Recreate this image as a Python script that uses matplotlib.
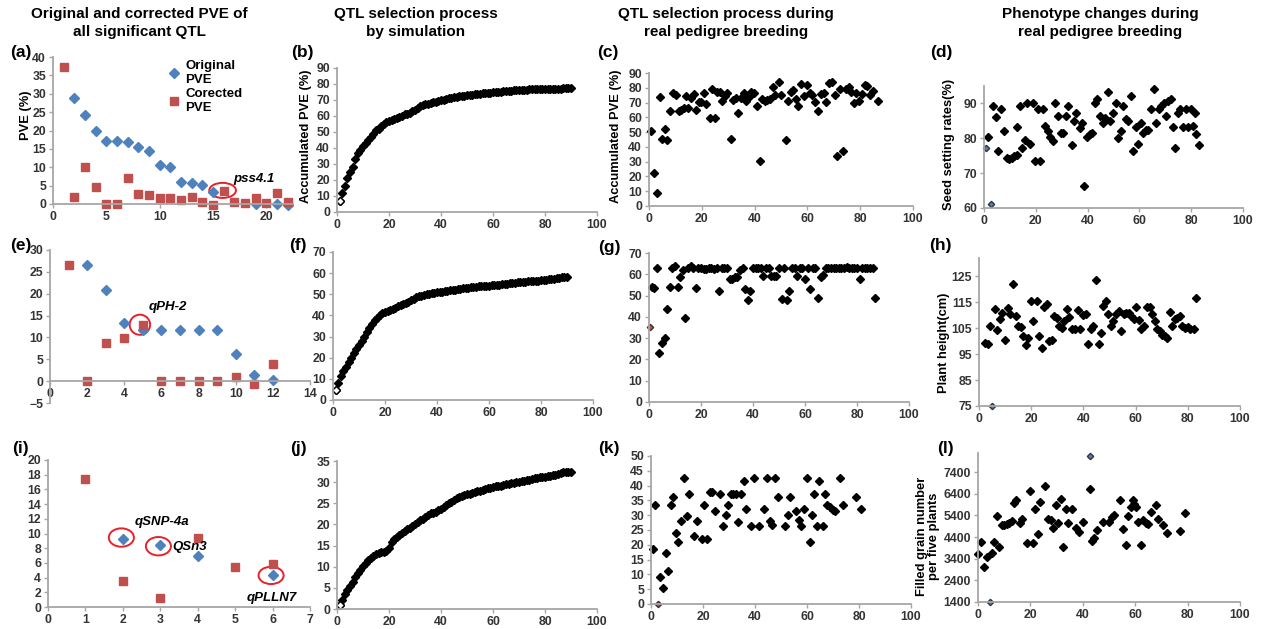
import matplotlib
matplotlib.use('Agg')
import matplotlib.pyplot as plt
from matplotlib.patches import Ellipse

plt.rcParams['font.family'] = ['Liberation Sans', 'DejaVu Sans']
plt.rcParams['font.weight'] = 'bold'

# ---- data ----
# (a) original vs corrected PVE
a_orig_x = [2, 3, 4, 5, 6, 7, 8, 9, 10, 11, 12, 13, 14, 15, 19, 21, 22]
a_orig = [28.8, 24.3, 20.0, 17.2, 17.2, 16.9, 15.5, 14.5, 10.7, 10.2, 6.0, 5.7, 5.3, 3.3, 0.0, 0.0, -0.3]
a_corr_x = list(range(1, 23))
a_corr = [37.4, 1.9, 10.1, 4.5, 0.0, 0.0, 7.2, 2.7, 2.4, 1.5, 1.6, 1.0, 2.0, 0.5, -0.4,
          3.6, 0.6, 0.2, 1.5, 0.3, 3.0, 0.5]

# (e)
e_orig_x = [2, 3, 4, 5, 6, 7, 8, 9, 10, 11, 12]
e_orig = [26.5, 20.8, 13.2, 11.8, 11.8, 11.8, 11.8, 11.8, 6.1, 1.3, 0.2]
e_corr_x = list(range(1, 13))
e_corr = [26.5, 0.0, 8.8, 9.9, 12.9, 0.0, 0.0, 0.0, 0.0, 0.9, -0.6, 4.0]

# (i)
i_orig_x = [2, 3, 4, 6]
i_orig = [9.3, 8.4, 7.0, 4.4]
i_corr_x = [1, 2, 3, 4, 5, 6]
i_corr = [17.4, 3.5, 1.2, 9.4, 5.5, 5.8]

# (b) (f) (j) simulated accumulated PVE, steps 1..90
sim_x = list(range(1, 91))
b_y = [7, 12, 16, 21, 25, 28, 33, 37, 39, 41, 43, 45, 47, 49, 51, 52, 53.5, 55, 56, 57,
       57.5, 58, 59, 59.5, 60, 61, 61.5, 62, 63, 64, 65, 66.5, 67, 67.3, 67.5, 68, 68.5, 69, 69.5, 70,
       70.3, 70.7, 71, 71.3, 71.7, 72, 72.3, 72.5, 72.8, 73, 73.2, 73.4, 73.6, 73.8, 74, 74.2, 74.3, 74.5, 74.6, 74.8,
       74.9, 75.1, 75.3, 75.4, 75.6, 75.7, 75.8, 76, 76.1, 76.2, 76.3, 76.4, 76.5, 76.6, 76.6, 76.7, 76.7, 76.8, 76.8, 76.9,
       76.9, 77, 77, 77, 77.1, 77.1, 77.2, 77.2, 77.2, 77.3]
f_y = [4.5, 8, 11.5, 13.5, 15.5, 18, 20, 22, 24, 26, 28, 30, 32, 34, 36, 38, 39, 40, 41, 41.5,
       42, 42.5, 43, 43.5, 44.5, 45, 45.5, 46, 46.5, 47.5, 48, 48.5, 49, 49.3, 49.6, 50, 50.3, 50.6, 50.8, 51,
       51.1, 51.2, 51.4, 51.6, 51.8, 52, 52.2, 52.4, 52.6, 52.8, 53, 53.2, 53.4, 53.5, 53.6, 53.7, 53.8, 53.9, 54, 54.1,
       54.2, 54.3, 54.4, 54.6, 54.8, 55, 55.1, 55.2, 55.3, 55.4, 55.6, 55.8, 55.9, 56, 56.1, 56.2, 56.3, 56.4, 56.5, 56.6,
       56.7, 56.8, 57, 57.2, 57.4, 57.6, 57.8, 58, 58, 58]
j_y = [0.9, 2.1, 3.5, 4.5, 5.5, 6.5, 7.6, 8.5, 9.3, 10.2, 10.9, 11.6, 12.1, 12.6, 13.0, 13.2, 13.4, 13.5, 13.8, 14.5,
       15.8, 16.5, 17.0, 17.5, 18.0, 18.5, 18.9, 19.2, 19.7, 20.2, 20.6, 21.0, 21.4, 21.8, 22.2, 22.6, 22.8, 23.0, 23.3, 23.7,
       24.2, 24.7, 25.1, 25.4, 25.8, 26.2, 26.5, 26.8, 27.0, 27.2, 27.3, 27.5, 27.6, 27.8, 28.0, 28.2, 28.4, 28.5, 28.7, 28.8,
       29.0, 29.1, 29.2, 29.4, 29.5, 29.6, 29.7, 29.9, 30.0, 30.1, 30.2, 30.3, 30.5, 30.6, 30.7, 30.9, 31.0, 31.1, 31.2, 31.3,
       31.4, 31.5, 31.6, 31.8, 32.0, 32.2, 32.4, 32.5, 32.5, 32.4]

# (c) accumulated PVE in real breeding (seed setting)
c_x = [0.9, 1.9, 3.0, 4.0, 4.9, 5.9, 6.9, 7.8, 9.1, 10.1, 11.2, 12.2, 13.1, 14.1, 14.8, 16.0, 17.0, 17.9, 18.9, 19.8,
       20.8, 21.7, 23.0, 23.9, 24.9, 25.8, 26.8, 27.8, 28.7, 29.7, 30.9, 31.8, 32.8, 33.7, 35.0, 35.9, 36.9, 37.9, 38.8, 39.6,
       40.9, 41.9, 42.8, 43.8, 44.8, 46.0, 46.9, 47.9, 49.3, 49.9, 51.8, 52.7, 53.7, 54.5, 55.6, 56.4, 57.7, 58.7, 59.8, 60.9,
       61.9, 62.8, 64.0, 65.0, 66.2, 67.2, 68.2, 69.3, 70.3, 71.3, 72.5, 73.5, 74.7, 75.8, 76.6, 77.7, 78.5, 79.5, 80.7, 81.7,
       82.7, 83.6, 84.8, 86.7]
c_y = [50.5, 22.2, 8.6, 73.5, 45.2, 52.0, 44.8, 64.5, 76.5, 75.3, 64.0, 64.7, 66.3, 74.7, 66.3, 73.0, 76.0, 65.2, 70.1, 70.1,
       76.5, 69.0, 59.5, 79.2, 59.5, 77.0, 77.0, 71.3, 74.7, 76.5, 45.2, 72.0, 73.1, 62.9, 73.1, 76.5, 71.3, 73.5, 77.0, 76.5,
       67.9, 30.5, 72.4, 70.8, 71.5, 72.4, 80.5, 75.3, 83.7, 75.3, 44.8, 71.3, 77.0, 78.7, 72.4, 67.4, 82.6, 74.2, 82.1, 76.5,
       75.3, 70.1, 64.0, 75.8, 76.5, 70.1, 83.3, 83.7, 75.3, 34.0, 79.2, 37.3, 79.2, 80.5, 77.0, 69.6, 76.5, 70.8, 75.8, 82.1,
       81.0, 75.3, 77.6, 70.8]

# (d) seed setting rates
d_x = [1.7, 3.6, 4.6, 5.5, 6.6, 7.7, 8.7, 9.6, 10.7, 11.7, 12.6, 12.9, 13.9, 14.8, 15.8, 16.7, 17.7, 18.8, 19.7, 20.7,
       21.6, 22.6, 23.5, 24.6, 25.4, 26.5, 27.6, 28.7, 29.6, 30.6, 31.6, 32.5, 33.8, 34.8, 35.7, 37.0, 38.0, 38.7, 39.6, 40.9,
       41.8, 42.8, 43.8, 44.7, 45.8, 46.7, 48.0, 48.6, 49.9, 50.8, 51.8, 52.8, 53.7, 54.8, 55.7, 56.7, 57.6, 58.6, 59.5, 60.5,
       61.4, 62.5, 63.4, 64.4, 65.7, 66.6, 67.6, 68.5, 69.5, 70.2, 71.1, 72.1, 73.0, 73.9, 74.9, 75.8, 76.9, 77.9, 78.8, 79.8,
       80.7, 81.4, 82.0, 83.0]
d_y = [80.3, 89.4, 86.1, 76.3, 88.3, 82.2, 74.4, 74.1, 74.4, 74.9, 75.3, 83.3, 89.2, 77.3, 79.5, 90.2, 78.4, 90.2, 73.4, 88.3,
       73.4, 88.3, 83.5, 82.1, 80.4, 79.2, 90.2, 86.4, 81.6, 81.6, 86.4, 89.2, 78.2, 85.1, 87.3, 83.0, 84.4, 66.2, 80.4, 81.3,
       81.6, 90.2, 91.2, 86.4, 84.3, 85.9, 93.3, 85.1, 87.3, 90.2, 80.1, 82.2, 89.2, 85.4, 85.1, 92.1, 76.3, 83.2, 78.4, 84.4,
       81.6, 82.3, 82.5, 88.3, 94.2, 84.3, 88.5, 89.4, 90.2, 86.4, 90.7, 91.4, 83.3, 77.3, 87.3, 88.3, 83.3, 88.3, 83.3, 88.3,
       83.5, 87.3, 81.3, 78.2]
d_par_x = [0.8, 2.7]
d_par_y = [77.3, 61.2]

# (g) accumulated PVE in real breeding (plant height)
g_x = list(range(1, 88))
g_y = [54, 53.5, 62.9, 22.8, 27.8, 30.3, 43.6, 53.9, 62.9, 63.7, 54.2, 58.6, 62.1, 39.3, 62.9, 63.7, 63, 53.5, 63, 63,
       62.5, 62.5, 63, 63, 62.5, 63, 52, 63, 63, 63, 58, 58, 58.5, 58.5, 62, 63, 53, 48, 52, 63,
       63, 63, 63, 59, 63, 63, 59, 59, 59, 63, 48.5, 63, 48, 52, 63, 63, 59, 63, 63, 58,
       63, 53, 63, 63, 49, 58.5, 59.5, 63, 63, 63, 63, 63, 63, 63, 63, 63.5, 63, 63, 63, 63,
       58, 63, 63, 63, 63, 63, 49]
g_par_x = [0.5]
g_par_y = [35.4]

# (h) plant height
h_x = [2.2, 3.5, 4.1, 6.0, 6.9, 7.9, 9.0, 10.1, 11.2, 12.0, 13.1, 14.1, 15.0, 16.0, 16.9, 17.9, 18.8, 19.9, 20.8, 22.1,
       23.1, 24.0, 25.0, 25.9, 26.9, 27.8, 28.8, 29.7, 30.8, 31.7, 32.7, 33.6, 34.6, 35.8, 36.8, 37.8, 38.7, 39.7, 40.9, 41.9,
       42.8, 43.8, 44.7, 45.8, 46.8, 47.7, 48.7, 49.6, 50.6, 51.5, 52.6, 53.5, 54.5, 55.4, 56.4, 57.3, 58.3, 59.2, 60.3, 61.2,
       62.2, 63.1, 64.4, 65.4, 66.3, 67.3, 68.2, 69.2, 70.1, 71.2, 72.1, 73.1, 74.0, 75.0, 75.9, 76.9, 77.8, 79.1, 80.0, 81.0,
       82.3, 83.3]
h_y = [99.3, 98.9, 106.0, 112.5, 104.2, 108.6, 111.0, 100.6, 112.9, 110.3, 122.0, 109.7, 106.0, 105.5, 102.1, 98.6, 101.2,
       115.5, 107.7, 115.5, 101.9, 97.3, 113.3, 114.2, 99.9, 100.3, 109.7, 109.0, 106.0, 105.1, 107.7, 112.2, 109.3, 104.5,
       104.5, 112.0, 104.5, 109.9, 110.3, 99.0, 104.5, 106.0, 123.6, 99.0, 103.2, 113.6, 115.5, 110.5, 105.8, 107.7, 110.3,
       111.6, 103.8, 110.3, 110.7, 110.7, 109.7, 108.4, 113.3, 108.1, 104.5, 106.0, 113.3, 113.3, 110.3, 107.7, 104.5, 103.8,
       102.5, 101.9, 101.2, 111.2, 106.0, 108.4, 109.0, 109.7, 105.8, 105.1, 105.5, 104.7, 104.7, 116.6]
h_par_x = [5]
h_par_y = [75]

# (k) accumulated PVE in real breeding (filled grain number)
k_x = [0.6, 1.5, 3.5, 4.7, 5.6, 6.7, 7.7, 8.6, 9.6, 10.5, 11.6, 12.7, 13.7, 14.8, 16.7, 17.8, 19.5, 20.5, 21.7, 22.7,
       23.6, 24.6, 26.6, 27.6, 28.8, 29.8, 30.7, 31.7, 32.7, 33.6, 34.7, 35.8, 36.6, 38.5, 39.7, 41.7, 43.6, 44.5, 45.6, 46.5,
       47.8, 48.8, 51.6, 52.6, 53.5, 55.8, 57.0, 57.8, 58.9, 59.9, 61.2, 61.9, 62.8, 63.8, 64.7, 66.0, 66.8, 67.7, 68.9, 69.9,
       70.9, 72.8, 73.8, 78.8, 80.9]
k_y = [18.5, 33.6, 9.2, 5.5, 17.3, 11.1, 33.6, 36.0, 24.0, 20.8, 28.0, 42.7, 29.7, 37.3, 22.9, 28.0, 22.1, 33.6, 22.1, 37.9,
       37.9, 31.5, 37.3, 26.3, 30.0, 33.4, 37.3, 37.3, 37.3, 27.8, 37.3, 41.5, 32.2, 26.3, 42.7, 26.3, 32.0, 42.7, 28.0, 26.6,
       42.7, 36.0, 26.3, 30.0, 36.0, 31.5, 28.3, 26.4, 32.2, 42.7, 20.8, 30.0, 37.3, 26.3, 41.5, 26.3, 37.3, 33.6, 32.8, 31.9,
       31.3, 42.7, 33.4, 36.0, 32.2]
k_par_x = [2.6]
k_par_y = [0]

# (l) filled grain number per five plants
l_x = [0.1, 1.1, 2.3, 3.3, 5.2, 6.2, 7.1, 8.1, 9.0, 10.0, 10.9, 12.0, 12.8, 13.7, 14.5, 16.0, 16.9, 18.6, 19.8, 20.9,
       21.8, 22.8, 23.7, 25.6, 26.6, 27.7, 28.8, 29.6, 30.7, 31.7, 32.6, 33.6, 34.5, 35.8, 37.4, 38.5, 40.2, 42.7, 43.4, 44.4,
       45.5, 47.6, 50.1, 51.0, 52.0, 54.2, 55.5, 56.5, 57.4, 58.3, 59.0, 59.7, 60.3, 61.2, 62.2, 63.1, 64.0, 65.0, 66.0, 67.9,
       68.8, 70.7, 72.0, 77.1, 79.0]
l_y = [3620, 4156, 3038, 3467, 3681, 4156, 5365, 3926, 4952, 4952, 4998, 5059, 5136, 5978, 6131, 5059, 5212, 4110, 6514, 4110,
       5717, 4539, 6024, 6743, 5212, 5181, 4799, 5901, 5028, 6177, 3957, 5672, 5059, 5672, 4799, 4646, 5105, 6605, 4217, 4339,
       4722, 5105, 5105, 5304, 5411, 6131, 4753, 4033, 5365, 5794, 6100, 5947, 5794, 5105, 4033, 5181, 5028, 4998, 5564, 5870,
       5212, 4952, 4569, 4692, 5488]
l_par_x = [4.4, 42.7]
l_par_y = [1400, 8137]

BLUE = '#4F81BD'
RED = '#C0504D'
CIRC = '#E8202A'
W, H = 1269, 629

fig = plt.figure(figsize=(W / 100, H / 100), dpi=100)


def add_ax(left, right, top, bottom):
    return fig.add_axes([left / W, 1 - bottom / H, (right - left) / W, (bottom - top) / H])


def style(ax, xlim, ylim, xticks, yticks):
    ax.set_xlim(xlim)
    ax.set_ylim(ylim)
    ax.set_xticks(xticks)
    ax.set_yticks(yticks)
    ax.patch.set_alpha(0)
    for s in ['top', 'right']:
        ax.spines[s].set_visible(False)
    for s in ['left', 'bottom']:
        ax.spines[s].set_color('#A6A6A6')
        ax.spines[s].set_linewidth(1.3)
    ax.tick_params(length=3, width=1, color='#A6A6A6', labelsize=8.8,
                   labelcolor='#333333', pad=2)


def ftext(x, y, s, **kw):
    fig.text(x / W, 1 - y / H, s, **kw)


blk = dict(ls='none', marker='D', ms=4.3, color='black', clip_on=False)

# ---- column titles ----
titles = [(139, 'Original and corrected PVE of\nall significant QTL'),
          (416, 'QTL selection process\nby simulation'),
          (726, 'QTL selection process during\nreal pedigree breeding'),
          (1100, 'Phenotype changes during\nreal pedigree breeding')]
for x, t in titles:
    ftext(x, 23, t, ha='center', va='center', fontsize=11, linespacing=1.3)

# ---- column 1 ----
ax = add_ax(53, 293, 57, 204)
style(ax, (0, 22.5), (0, 40), range(0, 21, 5), range(0, 41, 5))
h1, = ax.plot(a_orig_x, a_orig, ls='none', marker='D', ms=4.6, color=BLUE, clip_on=False)
h2, = ax.plot(a_corr_x, a_corr, ls='none', marker='s', ms=5.6, color=RED, clip_on=False)
ax.legend([h1, h2], ['Original\nPVE', 'Corected\nPVE'], loc='upper left',
          bbox_to_anchor=(0.475, 0.98), frameon=False, fontsize=9.5, handlelength=1,
          handletextpad=0.4, labelspacing=0.15, borderaxespad=0, borderpad=0)
ax.add_patch(Ellipse((15.9, 3.7), 2.5, 4.1, fill=False, ec=CIRC, lw=1.4, clip_on=False))
ax.text(16.9, 6.8, 'pss4.1', style='italic', fontsize=9.5, va='center', ha='left')

ax = add_ax(50, 310, 250, 403)
style(ax, (0, 14), (-5, 30), range(0, 15, 2), range(-5, 31, 5))
ax.spines['bottom'].set_position(('data', 0))
ax.plot(e_orig_x, e_orig, ls='none', marker='D', ms=4.6, color=BLUE, clip_on=False)
ax.plot(e_corr_x, e_corr, ls='none', marker='s', ms=5.6, color=RED, clip_on=False)
ax.add_patch(Ellipse((4.84, 12.9), 1.1, 4.6, fill=False, ec=CIRC, lw=1.4, clip_on=False))
ax.text(5.3, 16.9, 'qPH-2', style='italic', fontsize=9.5, va='center', ha='left')

ax = add_ax(48, 310, 460, 607)
style(ax, (0, 7), (0, 20), range(0, 8), range(0, 21, 2))
ax.plot(i_orig_x, i_orig, ls='none', marker='D', ms=4.6, color=BLUE, clip_on=False)
ax.plot(i_corr_x, i_corr, ls='none', marker='s', ms=5.6, color=RED, clip_on=False)
for cx, cy, w, hh in [(1.96, 9.45, 0.67, 2.5), (2.95, 8.27, 0.67, 2.5), (5.96, 4.3, 0.67, 2.36)]:
    ax.add_patch(Ellipse((cx, cy), w, hh, fill=False, ec=CIRC, lw=1.4, clip_on=False))
ax.text(2.31, 11.5, 'qSNP-4a', style='italic', fontsize=9.5, va='center', ha='left')
ax.text(3.33, 8.1, 'QSn3', style='italic', fontsize=9.5, va='center', ha='left')
ax.text(5.3, 1.2, 'qPLLN7', style='italic', fontsize=9.5, va='center', ha='left')

# ---- column 2: simulation ----
for (top, bot, ymax, ystep, ys) in [(68, 212, 90, 10, b_y), (252, 400, 70, 10, f_y), (461, 609, 35, 5, j_y)]:
    left = 337 if top != 252 else 333
    ax = add_ax(left, left + 260, top, bot)
    style(ax, (0, 100), (0, ymax), range(0, 101, 20), range(0, ymax + 1, ystep))
    ax.plot(sim_x, ys, **blk)
    ax.plot(sim_x[:1], ys[:1], ls='none', marker='D', ms=4.3, mfc='white', mec='black', clip_on=False)

# ---- column 3: real breeding accumulated PVE ----
ax = add_ax(649, 913, 73, 206)
style(ax, (0, 100), (0, 90), range(0, 101, 20), range(0, 91, 10))
ax.plot(c_x, c_y, **blk)

ax = add_ax(649, 909, 253, 402)
style(ax, (0, 100), (0, 70), range(0, 101, 20), range(0, 71, 10))
ax.plot(g_x, g_y, **blk)
ax.plot(g_par_x, g_par_y, ls='none', marker='D', ms=3.2, mfc=RED, mec='#333333', clip_on=False)

ax = add_ax(651, 911, 456, 604)
style(ax, (0, 100), (0, 50), range(0, 101, 20), range(0, 51, 5))
ax.plot(k_x, k_y, **blk)
ax.plot(k_par_x, k_par_y, ls='none', marker='D', ms=3.2, mfc=RED, mec='#333333', clip_on=False)

# ---- column 4: phenotypes ----
ax = add_ax(984, 1243, 86, 208)
style(ax, (0, 100), (60, 95), range(0, 101, 20), range(60, 91, 10))
ax.plot(d_x, d_y, **blk)
ax.plot(d_par_x, d_par_y, ls='none', marker='D', ms=3.2, mfc=BLUE, mec='#333333', clip_on=False)

ax = add_ax(979, 1240, 258, 406)
style(ax, (0, 100), (75, 132), range(0, 101, 20), range(75, 126, 10))
ax.plot(h_x, h_y, **blk)
ax.plot(h_par_x, h_par_y, ls='none', marker='D', ms=3.2, mfc=BLUE, mec='#333333', clip_on=False)

ax = add_ax(978, 1240, 453, 602)
style(ax, (0, 100), (1400, 8280), range(0, 101, 20), range(1400, 7401, 1000))
ax.plot(l_x, l_y, **blk)
ax.plot(l_par_x, l_par_y, ls='none', marker='D', ms=3.2, mfc=BLUE, mec='#333333', clip_on=False)

# ---- axis titles ----
ylab = dict(rotation=90, ha='center', va='center', fontsize=9.3)
ftext(26, 115, 'PVE (%)', **ylab)
ftext(306, 136, 'Accumulated PVE (%)', **ylab)
ftext(616, 136, 'Accumulated PVE (%)', **ylab)
ftext(949, 144, 'Seed setting rates(%)', **ylab)
ftext(944, 343, 'Plant height(cm)', **ylab)
ftext(928, 536, 'Filled grain number\nper five plants', linespacing=1.1, **ylab)

# ---- panel letters ----
letters = [('(a)', 21, 53), ('(b)', 302, 52), ('(c)', 608, 52), ('(d)', 941, 52),
           ('(e)', 21, 246), ('(f)', 298, 246), ('(g)', 609, 248), ('(h)', 940, 246),
           ('(i)', 20, 449), ('(j)', 298, 449), ('(k)', 609, 449), ('(l)', 945, 449)]
for s, x, y in letters:
    ftext(x, y, s, ha='center', va='center', fontsize=12.5)

fig.savefig('out.png', dpi=100)
